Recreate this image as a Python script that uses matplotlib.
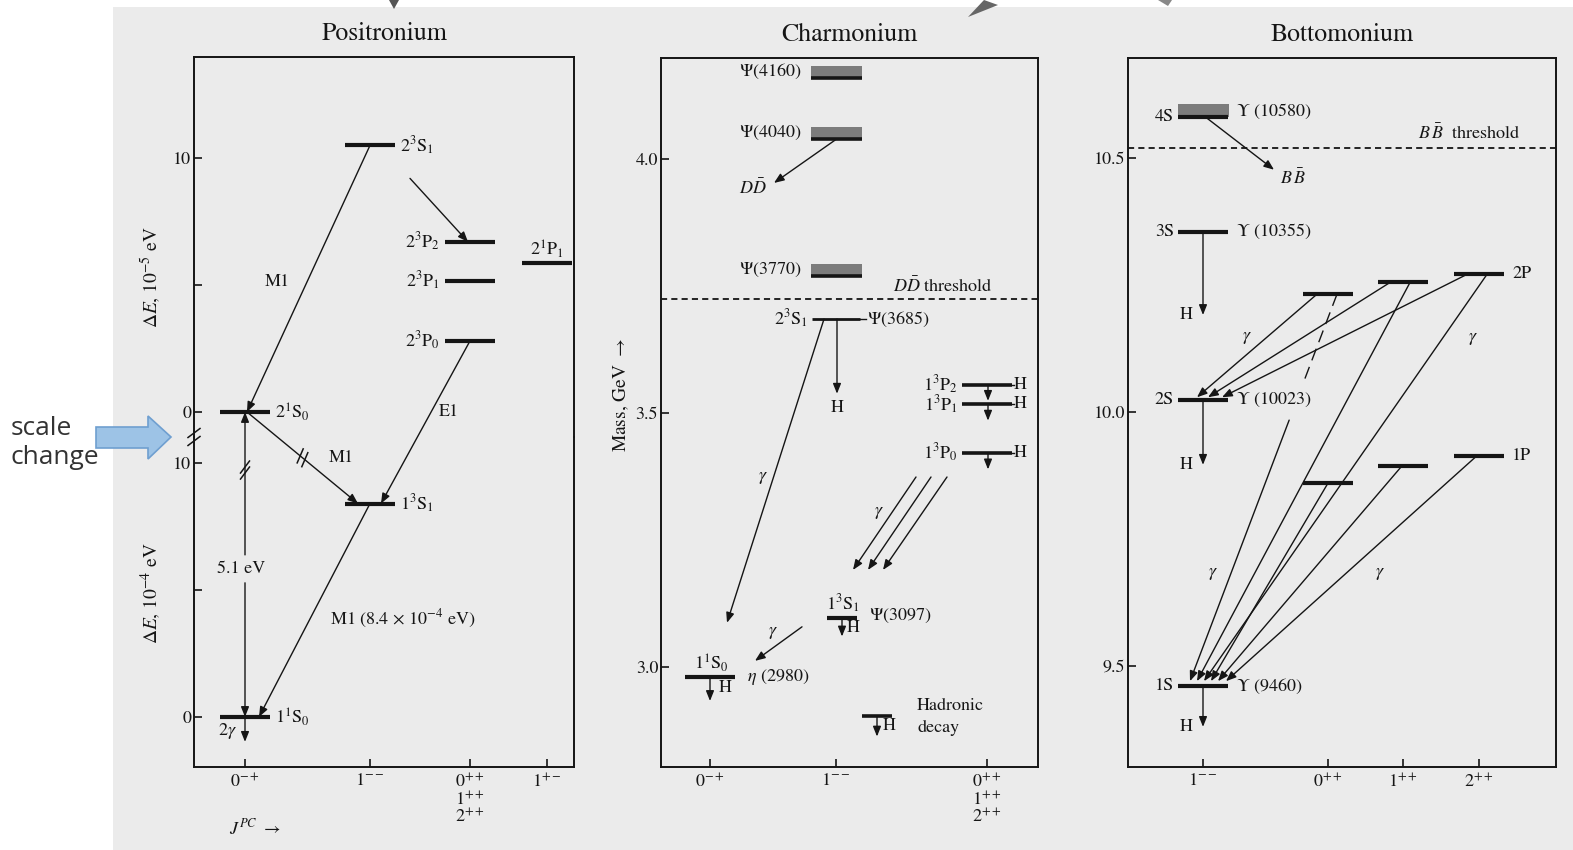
import numpy as np
import matplotlib.pyplot as plt
from matplotlib.patches import Rectangle, Polygon, ConnectionPatch

W, H = 1573, 850
PAPER = '#ebebeb'
INK = '#151515'

plt.rcParams['font.family'] = ['STIXGeneral', 'DejaVu Serif']
plt.rcParams['mathtext.fontset'] = 'stix'

# ---------------- data ----------------
# positronium: n=2 splittings in 1e-5 eV, n=1 splittings in 1e-4 eV
ps_jpc = [r'$0^{-+}$', r'$1^{--}$', '$0^{++}$\n$1^{++}$\n$2^{++}$', r'$1^{+-}$']
ps2_names = [r'$2^3\mathrm{S}_1$', r'$2^3\mathrm{P}_2$', r'$2^3\mathrm{P}_1$',
             r'$2^3\mathrm{P}_0$', r'$2^1\mathrm{P}_1$', r'$2^1\mathrm{S}_0$']
ps2_col = [1, 2, 2, 2, 3, 0]
ps2_dE = [10.5, 6.7, 5.15, 2.8, 5.85, 0.0]
ps1_names = [r'$1^3\mathrm{S}_1$', r'$1^1\mathrm{S}_0$']
ps1_col = [1, 0]
ps1_dE = [8.4, 0.0]
ps_gap_eV = 5.1

# charmonium, masses in GeV
cc_jpc = [r'$0^{-+}$', r'$1^{--}$', '$0^{++}$\n$1^{++}$\n$2^{++}$']
cc_names = [r'$1^1\mathrm{S}_0$', r'$1^3\mathrm{S}_1$', r'$2^3\mathrm{S}_1$',
            r'$1^3\mathrm{P}_0$', r'$1^3\mathrm{P}_1$', r'$1^3\mathrm{P}_2$']
cc_states = [r'$\eta$ (2980)', r'$\Psi$(3097)', r'$\Psi$(3685)', 'H', 'H', 'H']
cc_col = [0, 1, 1, 2, 2, 2]
cc_mass = [2.980, 3.097, 3.685, 3.421, 3.517, 3.556]
cc_broad = [r'$\Psi$(3770)', r'$\Psi$(4040)', r'$\Psi$(4160)']
cc_broad_mass = [3.770, 4.040, 4.160]
cc_dd_threshold = 3.725

# bottomonium, masses in GeV
bb_jpc = [r'$1^{--}$', r'$0^{++}$', r'$1^{++}$', r'$2^{++}$']
bb_s_names = ['1S', '2S', '3S', '4S']
bb_s_states = [r'$\Upsilon$ (9460)', r'$\Upsilon$ (10023)', r'$\Upsilon$ (10355)',
               r'$\Upsilon$ (10580)']
bb_s_mass = [9.460, 10.023, 10.355, 10.580]
bb_1p_mass = [9.860, 9.894, 9.914]   # J = 0, 1, 2
bb_2p_mass = [10.232, 10.255, 10.271]
bb_bb_threshold = 10.52

# ---------------- layout ----------------
ps_x = [245, 370, 470, 547]
cc_x = [710, 836, 987]
bb_x = [1203, 1328, 1403, 1479]
HEAD = 'head_length=0.6,head_width=0.24'
FS = 13
LW = 1.0


def rect(l, t, r, b):
    return [l / W, 1 - b / H, (r - l) / W, (b - t) / H]


fig = plt.figure(figsize=(W / 100, H / 100), dpi=100)
bg = fig.add_axes([0, 0, 1, 1], zorder=-5)
bg.set_xlim(0, W)
bg.set_ylim(H, 0)
bg.axis('off')
bg.add_patch(Rectangle((113, 7), W - 113, H - 7, fc=PAPER, lw=0))

ps_up = fig.add_axes(rect(194, 57, 574, 437))
ps_lo = fig.add_axes(rect(194, 437, 574, 767))
cc = fig.add_axes(rect(661, 58, 1038, 767))
bb = fig.add_axes(rect(1128, 58, 1556, 767))


def style(ax, xlim, ylim):
    ax.set_xlim(*xlim)
    ax.set_ylim(*ylim)
    ax.set_facecolor('none')
    for s in ax.spines.values():
        s.set_linewidth(1.4)
        s.set_color(INK)
    ax.tick_params(direction='in', length=6, width=1.2, colors=INK, labelsize=13)
    ax.tick_params(axis='y', pad=2)
    ax.tick_params(axis='x', pad=4)


def level(ax, x, y, hw=25, lw=2.6):
    ax.plot([x - hw, x + hw], [y, y], color=INK, lw=lw, solid_capstyle='butt')


def arrow(ax, p0, p1, lw=LW, head=True):
    ax.annotate('', xy=p1, xytext=p0, annotation_clip=False,
                arrowprops=dict(arrowstyle=('-|>,' + HEAD) if head else '-', color=INK,
                                lw=lw, shrinkA=0, shrinkB=0, mutation_scale=10))


def cross(axA, pA, axB, pB, style_='-|>', lw=LW):
    con = ConnectionPatch(xyA=pA, coordsA=axA.transData, xyB=pB, coordsB=axB.transData,
                          arrowstyle=style_ + ',' + HEAD, mutation_scale=10, lw=lw,
                          color=INK, shrinkA=0, shrinkB=0)
    fig.add_artist(con)


def txt(ax, x, y, s, ha='center', va='center', fs=FS, **kw):
    ax.text(x, y, s, ha=ha, va=va, fontsize=fs, color=INK, **kw)


def to_px(ax, x, y):
    return bg.transData.inverted().transform(ax.transData.transform((x, y)))


def slashes(px, py, offsets, sx=4.5, sy=6.0):
    for ox, oy in offsets:
        cx, cy = px + ox, py + oy
        bg.plot([cx - sx, cx + sx], [cy + sy, cy - sy], color=INK, lw=1.1)


# ---------------- positronium ----------------
style(ps_up, (194, 574), (-0.984, 13.98))
style(ps_lo, (194, 574), (-1.97, 11.02))
ps_up.spines['bottom'].set_visible(False)
ps_lo.spines['top'].set_visible(False)
ps_up.set_xticks([])
ps_up.set_yticks([0, 5, 10], ['0', '', '10'])
ps_lo.set_yticks([0, 5, 10], ['0', '', '10'])
ps_lo.set_xticks(ps_x, ps_jpc)
for t in ps_lo.get_xticklabels():
    t.set_linespacing(0.95)
ps_up.set_title('Positronium', fontsize=18.5, pad=12, color=INK)
ps_up.set_ylabel(r'$\Delta E$, $10^{-5}$ eV', fontsize=14, color=INK)
ps_up.yaxis.set_label_coords(-0.082, 0.42)
ps_lo.set_ylabel(r'$\Delta E$, $10^{-4}$ eV', fontsize=14, color=INK)
ps_lo.yaxis.set_label_coords(-0.082, 0.527)
ps_lo.set_xlabel(r'$J^{PC}$ $\rightarrow$', fontsize=13, color=INK)
ps_lo.xaxis.set_label_coords(0.16, -0.155)

ps2_side = ['r', 'l', 'l', 'l', 'a', 'r']
for name, c, e, side in zip(ps2_names, ps2_col, ps2_dE, ps2_side):
    x = ps_x[c]
    level(ps_up, x, e, lw=3.0)
    if side == 'r':
        txt(ps_up, x + 30, e, name, ha='left')
    elif side == 'l':
        txt(ps_up, x - 30, e, name, ha='right')
    else:
        txt(ps_up, x, e + 0.12, name, va='bottom')
for name, c, e in zip(ps1_names, ps1_col, ps1_dE):
    level(ps_lo, ps_x[c], e, lw=3.0)
    txt(ps_lo, ps_x[c] + 30, e, name, ha='left')

e23s1, e23p2, e23p1, e23p0, e21p1, e21s0 = ps2_dE
e13s1, e11s0 = ps1_dE
x0, x1, x2, x3 = ps_x

arrow(ps_up, (x1, e23s1), (x0 + 2, e21s0))
txt(ps_up, 277, 5.12, 'M1')
arrow(ps_up, (x1 + 40, e23s1 - 1.3), (x2 - 2, e23p2))
cross(ps_up, (x2, e23p0), ps_lo, (x1 + 11, e13s1))
txt(ps_up, 449, 0.0, 'E1')
cross(ps_up, (x0 + 2, e21s0), ps_lo, (x1 - 12, e13s1))
txt(ps_lo, 341, 10.2, 'M1')
arrow(ps_lo, (x1, e13s1), (x0 + 14, e11s0))
txt(ps_lo, 403, 3.86, rf'M1 ({e13s1} $\times$ $10^{{-4}}$ eV)')

# 2S - 1S interval, broken by the scale change
cross(ps_up, (x0, e21s0), ps_lo, (x0, 6.38), style_='<|-')
arrow(ps_lo, (x0, 5.28), (x0, e11s0))
txt(ps_lo, x0 - 4, 5.83, f'{ps_gap_eV} eV')
arrow(ps_lo, (x0, e11s0), (x0, e11s0 - 0.98))
txt(ps_lo, x0 - 18, e11s0 - 0.55, r'2$\gamma$')

slashes(194, 437, [(0, -4), (0, 4)], sx=6, sy=4.5)
vx, vy = to_px(ps_lo, x0, 9.72)
slashes(vx, vy, [(0, -3), (0, 3)])
a = to_px(ps_up, x0 + 2, e21s0)
b = to_px(ps_lo, x1 - 12, e13s1)
m = a + 0.5 * (b - a)
d = (b - a) / np.hypot(*(b - a)) * 3
slashes(m[0], m[1], [(-d[0], -d[1]), (d[0], d[1])], sx=3, sy=7)

# ---------------- charmonium ----------------
style(cc, (661, 1038), (2.803, 4.199))
cc.set_yticks([3.0, 3.5, 4.0], ['3.0', '3.5', '4.0'])
cc.set_xticks(cc_x, cc_jpc)
for t in cc.get_xticklabels():
    t.set_linespacing(0.95)
cc.set_title('Charmonium', fontsize=18.5, pad=12, color=INK)
cc.set_ylabel(r'Mass, GeV $\rightarrow$', fontsize=14, color=INK)
cc.yaxis.set_label_coords(-0.08, 0.525)

for name, m in zip(cc_broad, cc_broad_mass):
    cc.add_patch(Rectangle((cc_x[1] - 25, m), 51, 0.024, fc='#7c7c7c', ec='none'))
    level(cc, cc_x[1] + 0.5, m, hw=25.5, lw=2.6)
    txt(cc, cc_x[1] - 34, m + 0.012, name, ha='right')

m_eta, m_jpsi, m_psi2, m_chi0, m_chi1, m_chi2 = cc_mass

# eta_c
level(cc, cc_x[0], m_eta, lw=3.0)
txt(cc, cc_x[0] + 1, m_eta + 0.006, cc_names[0], va='bottom')
txt(cc, cc_x[0] + 37, m_eta, cc_states[0], ha='left')
arrow(cc, (cc_x[0], m_eta), (cc_x[0], m_eta - 0.047))
txt(cc, cc_x[0] + 9, m_eta - 0.022, 'H', ha='left')

# J/psi
level(cc, cc_x[1] + 6, m_jpsi, hw=15, lw=3.0)
txt(cc, cc_x[1] + 7, m_jpsi + 0.006, cc_names[1], va='bottom')
txt(cc, cc_x[1] + 33, m_jpsi + 0.004, cc_states[1], ha='left')
arrow(cc, (cc_x[1] + 6, m_jpsi), (cc_x[1] + 6, m_jpsi - 0.037))
txt(cc, cc_x[1] + 11, m_jpsi - 0.02, 'H', ha='left')

# psi(2S)
level(cc, cc_x[1], m_psi2, hw=24, lw=2.0)
cc.plot([cc_x[1] + 24, cc_x[1] + 30], [m_psi2, m_psi2], color=INK, lw=1.0)
txt(cc, cc_x[1] - 28, m_psi2, cc_names[2], ha='right')
txt(cc, cc_x[1] + 31, m_psi2, cc_states[2], ha='left')
arrow(cc, (cc_x[1] + 1, m_psi2), (cc_x[1] + 1, m_psi2 - 0.147))
txt(cc, cc_x[1] + 1, m_psi2 - 0.176, 'H')
arrow(cc, (cc_x[1] - 12, m_psi2), (cc_x[0] + 17, m_eta + 0.107))
txt(cc, 763, 3.372, r'$\gamma$')

# chi_cJ
for name, lab, m in zip(cc_names[3:], cc_states[3:], cc_mass[3:]):
    level(cc, cc_x[2], m)
    cc.plot([cc_x[2] + 25, cc_x[2] + 27], [m, m], color=INK, lw=1.0)
    txt(cc, cc_x[2] - 29, m, name, ha='right')
    txt(cc, cc_x[2] + 27, m, lab, ha='left')
    arrow(cc, (cc_x[2] + 1, m), (cc_x[2] + 1, m - 0.032))

for k, dx in enumerate([-71, -56, -40]):
    arrow(cc, (cc_x[2] + dx, m_chi0 - 0.047), (cc_x[1] + 17 + 15 * k, m_jpsi + 0.094))
txt(cc, 879, 3.303, r'$\gamma$')
arrow(cc, (802, m_jpsi - 0.018), (755, m_eta + 0.032))
txt(cc, 773, 3.067, r'$\gamma$')

arrow(cc, (cc_x[1] + 1, cc_broad_mass[1]), (cc_x[1] - 62, cc_broad_mass[1] - 0.087))
txt(cc, 753, 3.943, r'$D\bar{D}$')
cc.axhline(cc_dd_threshold, color=INK, lw=1.3, ls=(0, (3.4, 2.3)))
txt(cc, 943, cc_dd_threshold + 0.024, r'$D\bar{D}$ threshold')

# legend for hadronic decay
level(cc, 877, 2.904, hw=15)
arrow(cc, (877, 2.904), (877, 2.863))
txt(cc, 883, 2.884, 'H', ha='left')
txt(cc, 917, 2.924, 'Hadronic', ha='left')
txt(cc, 917, 2.880, 'decay', ha='left')

# ---------------- bottomonium ----------------
style(bb, (1128, 1556), (9.301, 10.697))
bb.set_yticks([9.5, 10.0, 10.5], ['9.5', '10.0', '10.5'])
bb.set_xticks(bb_x, bb_jpc)
bb.set_title('Bottomonium', fontsize=18.5, pad=12, color=INK)

m1s, m2s, m3s, m4s = bb_s_mass
bb.add_patch(Rectangle((bb_x[0] - 25, m4s), 51, 0.026, fc='#7c7c7c', ec='none'))
for name, lab, m in zip(bb_s_names, bb_s_states, bb_s_mass):
    level(bb, bb_x[0], m, lw=3.0)
    txt(bb, bb_x[0] - 29, m, name, ha='right')
    txt(bb, bb_x[0] + 33, m + (0.012 if name == '4S' else 0.0), lab, ha='left')
for m, hm in zip(bb_s_mass[:3], [9.380, 9.896, 10.191]):
    arrow(bb, (bb_x[0], m), (bb_x[0], hm))
    txt(bb, bb_x[0] - 17, hm, 'H')

for j in range(3):
    level(bb, bb_x[j + 1], bb_2p_mass[j], lw=3.0)
    level(bb, bb_x[j + 1], bb_1p_mass[j], lw=3.0)
txt(bb, bb_x[3] + 33, bb_2p_mass[2], '2P', ha='left')
txt(bb, bb_x[3] + 33, bb_1p_mass[2], '1P', ha='left')

arrow(bb, (bb_x[0] + 3, m4s), (1274, m4s - 0.103))
txt(bb, 1293, 10.459, r'$B\,\bar{B}$')
bb.axhline(bb_bb_threshold, color=INK, lw=1.3, ls=(0, (3.4, 2.3)))
txt(bb, 1469, bb_bb_threshold + 0.029, r'$B\,\bar{B}$  threshold')

# 2P -> 2S
for j, (s, e) in enumerate(zip([-11, -13, -12], [-6, 5, 19])):
    arrow(bb, (bb_x[j + 1] + s, bb_2p_mass[j]), (bb_x[0] + e, m2s + 0.006))
txt(bb, 1247, 10.146, r'$\gamma$')
txt(bb, 1473, 10.144, r'$\gamma$')

# 2P -> 1S
for j, (s, e) in enumerate(zip([9, 7, 8], [-13, -6, 1])):
    p0 = np.array([bb_x[j + 1] + s, bb_2p_mass[j]])
    p1 = np.array([bb_x[0] + e, m1s + 0.01])
    if j == 0:
        t_a = (p0[1] - 10.063) / (p0[1] - p1[1])
        t_b = (p0[1] - 9.984) / (p0[1] - p1[1])
        pa, pb = p0 + t_a * (p1 - p0), p0 + t_b * (p1 - p0)
        bb.plot([p0[0], pa[0]], [p0[1], pa[1]], color=INK, lw=LW, ls=(0, (9, 5)))
        arrow(bb, tuple(pb), tuple(p1))
    else:
        arrow(bb, tuple(p0), tuple(p1))

# 1P -> 1S
for j, (s, e) in enumerate(zip([0, -1, -2], [8, 15, 23])):
    arrow(bb, (bb_x[j + 1] + s, bb_1p_mass[j]), (bb_x[0] + e, m1s + 0.01))
txt(bb, 1213, 9.681, r'$\gamma$')
txt(bb, 1380, 9.681, r'$\gamma$')

# ---------------- page notes ----------------
bg.text(11, 428, 'scale', fontfamily=['Open Sans', 'DejaVu Sans'], fontsize=19,
        color='#333333', va='center', ha='left')
bg.text(11, 457, 'change', fontfamily=['Open Sans', 'DejaVu Sans'], fontsize=19,
        color='#333333', va='center', ha='left')
bg.add_patch(Polygon([(96, 427), (148, 427), (148, 416), (171, 437), (148, 459),
                      (148, 448), (96, 448)], closed=True, fc='#9dc3e6', ec='#6f9fd0', lw=1.2))
bg.add_patch(Polygon([(389, 0), (399, 0), (394, 9)], closed=True, fc='#555555', lw=0))
bg.add_patch(Polygon([(968, 17), (984, 0), (998, 5)], closed=True, fc='#666666', lw=0))
bg.add_patch(Polygon([(1158, 0), (1172, 0), (1168, 6)], closed=True, fc='#888888', lw=0))

fig.savefig('out.png', dpi=100)
